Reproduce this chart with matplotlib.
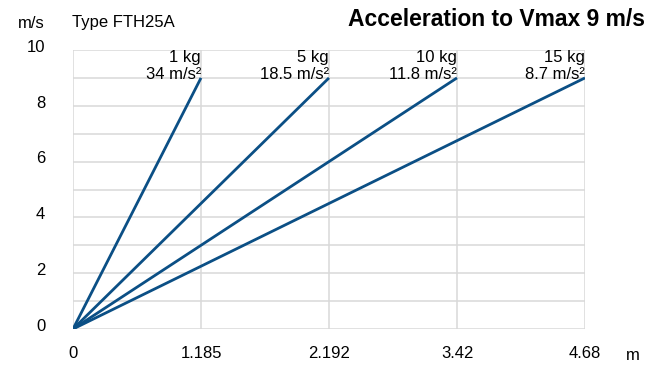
import matplotlib.pyplot as plt
from matplotlib.transforms import ScaledTranslation

plt.rcParams['font.family'] = ['Liberation Sans', 'DejaVu Sans']

# distance to reach Vmax for each load, plotted at equal spacing
dist_labels = ["0", "1.185", "2.192", "3.42", "4.68"]
loads = ["1 kg", "5 kg", "10 kg", "15 kg"]
accels = ["34 m/s²", "18.5 m/s²", "11.8 m/s²", "8.7 m/s²"]
vmax = 9
y_ticks = [0, 2, 4, 6, 8, 10]

line_col = "#0b4f85"
grid_col = "#d9d9d9"

fig = plt.figure(figsize=(6.47, 3.67), dpi=100)
ax = fig.add_axes([73 / 647, 1 - 329 / 367, 512 / 647, 279 / 367])

# grid
for y in range(0, 11):
    ax.axhline(y, color=grid_col, lw=1.1, zorder=1)
for x in range(0, len(dist_labels)):
    ax.axvline(x, color=grid_col, lw=1.1, zorder=1)

for i, (ld, acc) in enumerate(zip(loads, accels), start=1):
    ax.plot([0, i], [0, vmax], color=line_col, lw=2, zorder=3,
            solid_capstyle='butt')
    ax.text(i, 10.0, ld, ha='right', va='top', fontsize=12)
    ax.text(i, 9.38, acc, ha='right', va='top', fontsize=12)

ax.set_xlim(0, len(dist_labels) - 1)
ax.set_ylim(0, 10)
ax.set_xticks(range(len(dist_labels)))
ax.set_xticklabels(dist_labels, fontsize=12)
ax.set_yticks(y_ticks)
ax.set_yticklabels([str(v) for v in y_ticks], fontsize=12)
ax.tick_params(length=0)
ax.tick_params(axis='x', pad=12)
ax.tick_params(axis='y', pad=20)
# y labels sit a little above their grid lines
for lab in ax.get_yticklabels():
    lab.set_transform(lab.get_transform() +
                      ScaledTranslation(0, 3 / 72, fig.dpi_scale_trans))
for s in ax.spines.values():
    s.set_visible(False)

fig.text(45 / 647, 1 - 23 / 367, "m/s", ha='right', va='center', fontsize=12)
fig.text(72 / 647, 1 - 23 / 367, "Type FTH25A", ha='left', va='center', fontsize=12)
fig.text(645 / 647, 1 - 20 / 367, "Acceleration to Vmax 9 m/s", ha='right',
         va='center', fontsize=16.5, fontweight='bold')
fig.text(633 / 647, 1 - 356 / 367, "m", ha='center', va='center', fontsize=12)

fig.savefig("out.png", dpi=100)
